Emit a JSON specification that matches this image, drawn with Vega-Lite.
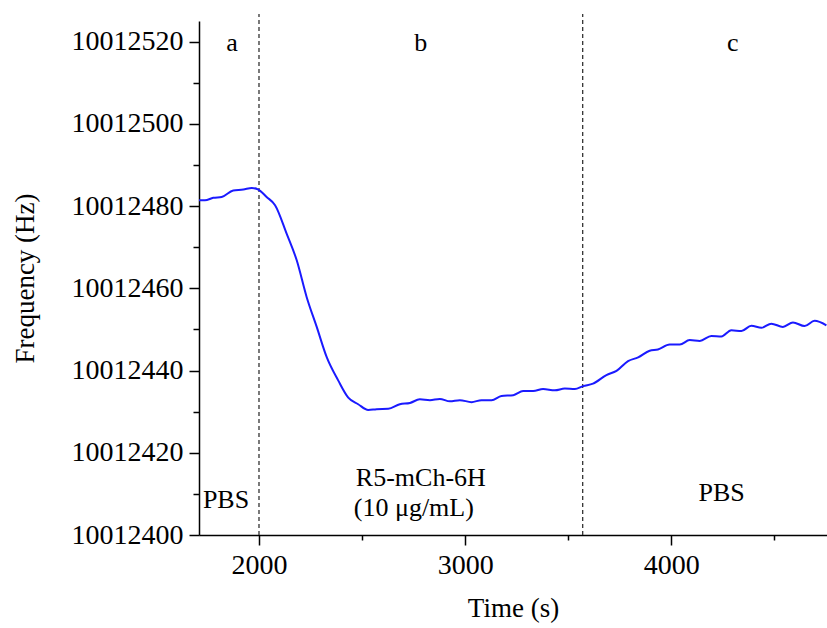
{
  "$schema": "https://vega.github.io/schema/vega-lite/v6.json",
  "width": 628,
  "height": 514,
  "autosize": {"type": "none"},
  "padding": {"left": 199, "top": 21, "right": 0, "bottom": 93},
  "background": "white",
  "config": {
    "view": {"stroke": null},
    "font": "Liberation Serif",
    "axis": {
      "grid": false,
      "domainColor": "black",
      "domainWidth": 1.5,
      "tickColor": "black",
      "tickWidth": 1.5,
      "labelFont": "Liberation Serif",
      "titleFont": "Liberation Serif",
      "labelFontSize": 28,
      "titleFontSize": 27,
      "labelColor": "black",
      "titleColor": "black",
      "titleFontWeight": "normal"
    }
  },
  "datasets": {
    "curve": [
      {"t": 1709, "f": 10012481.4},
      {"t": 1738, "f": 10012481.4},
      {"t": 1778, "f": 10012482.0},
      {"t": 1819, "f": 10012482.2},
      {"t": 1875, "f": 10012483.8},
      {"t": 1924, "f": 10012484.0},
      {"t": 1965, "f": 10012484.4},
      {"t": 1997, "f": 10012484.0},
      {"t": 2037, "f": 10012482.2},
      {"t": 2078, "f": 10012480.2},
      {"t": 2134, "f": 10012473.3},
      {"t": 2183, "f": 10012466.8},
      {"t": 2231, "f": 10012457.9},
      {"t": 2280, "f": 10012450.6},
      {"t": 2328, "f": 10012443.3},
      {"t": 2384, "f": 10012437.6},
      {"t": 2433, "f": 10012433.4},
      {"t": 2481, "f": 10012431.8},
      {"t": 2530, "f": 10012430.4},
      {"t": 2570, "f": 10012430.6},
      {"t": 2627, "f": 10012430.7},
      {"t": 2683, "f": 10012431.8},
      {"t": 2732, "f": 10012432.1},
      {"t": 2780, "f": 10012433.0},
      {"t": 2829, "f": 10012432.8},
      {"t": 2877, "f": 10012433.1},
      {"t": 2926, "f": 10012432.5},
      {"t": 2974, "f": 10012432.8},
      {"t": 3031, "f": 10012432.3},
      {"t": 3079, "f": 10012432.8},
      {"t": 3128, "f": 10012432.8},
      {"t": 3176, "f": 10012433.8},
      {"t": 3233, "f": 10012434.0},
      {"t": 3281, "f": 10012435.0},
      {"t": 3330, "f": 10012435.0},
      {"t": 3378, "f": 10012435.5},
      {"t": 3435, "f": 10012435.2},
      {"t": 3483, "f": 10012435.6},
      {"t": 3532, "f": 10012435.5},
      {"t": 3572, "f": 10012436.2},
      {"t": 3620, "f": 10012436.8},
      {"t": 3685, "f": 10012438.9},
      {"t": 3734, "f": 10012439.9},
      {"t": 3790, "f": 10012442.3},
      {"t": 3839, "f": 10012443.2},
      {"t": 3895, "f": 10012444.8},
      {"t": 3935, "f": 10012445.1},
      {"t": 3992, "f": 10012446.3},
      {"t": 4041, "f": 10012446.3},
      {"t": 4089, "f": 10012447.4},
      {"t": 4138, "f": 10012447.2},
      {"t": 4194, "f": 10012448.4},
      {"t": 4243, "f": 10012448.3},
      {"t": 4291, "f": 10012449.8},
      {"t": 4340, "f": 10012449.6},
      {"t": 4388, "f": 10012450.9},
      {"t": 4437, "f": 10012450.4},
      {"t": 4485, "f": 10012451.4},
      {"t": 4541, "f": 10012450.6},
      {"t": 4590, "f": 10012451.7},
      {"t": 4646, "f": 10012450.8},
      {"t": 4695, "f": 10012452.1},
      {"t": 4752, "f": 10012451.0}
    ],
    "dividers": [
      {"t": 2000, "y0": 10012400, "y1": 10012526.7},
      {"t": 3570, "y0": 10012400, "y1": 10012526.7}
    ],
    "labels": [
      {"t": 1869, "f": 10012519.7, "txt": "a"},
      {"t": 2785, "f": 10012519.7, "txt": "b"},
      {"t": 4298, "f": 10012519.7, "txt": "c"},
      {"t": 1840, "f": 10012408.5, "txt": "PBS"},
      {"t": 2785, "f": 10012413.8, "txt": "R5-mCh-6H"},
      {"t": 2751, "f": 10012406.6, "txt": "(10 μg/mL)"},
      {"t": 4244, "f": 10012410.2, "txt": "PBS"}
    ]
  },
  "encoding": {
    "x": {
      "field": "t",
      "type": "quantitative",
      "scale": {"domain": [1709, 4755], "nice": false, "zero": false},
      "axis": {
        "title": "Time (s)",
        "values": [2000, 2500, 3000, 3500, 4000, 4500],
        "labelExpr": "datum.value % 1000 === 0 ? format(datum.value, 'd') : ''",
        "tickSize": {"condition": {"test": "datum.value % 1000 === 0", "value": 10}, "value": 5},
        "labelPadding": 6,
        "titlePadding": 16
      }
    },
    "y": {
      "field": "f",
      "type": "quantitative",
      "scale": {"domain": [10012400, 10012525], "nice": false, "zero": false},
      "axis": {
        "title": "Frequency (Hz)",
        "values": [10012400, 10012410, 10012420, 10012430, 10012440, 10012450, 10012460, 10012470, 10012480, 10012490, 10012500, 10012510, 10012520],
        "labelExpr": "datum.value % 20 === 0 ? format(datum.value, 'd') : ''",
        "tickSize": {"condition": {"test": "datum.value % 20 === 0", "value": 10}, "value": 6},
        "labelPadding": 6,
        "titlePadding": 32
      }
    }
  },
  "layer": [
    {
      "data": {"name": "dividers"},
      "mark": {"type": "rule", "color": "#333333", "strokeWidth": 1.3, "strokeDash": [4, 3], "clip": false},
      "encoding": {
        "x": {"field": "t", "type": "quantitative"},
        "y": {"field": "y0", "type": "quantitative"},
        "y2": {"field": "y1"}
      }
    },
    {
      "data": {"name": "curve"},
      "mark": {"type": "line", "color": "#1a1aff", "strokeWidth": 2, "interpolate": "monotone"},
      "encoding": {}
    },
    {
      "data": {"name": "labels"},
      "mark": {"type": "text", "font": "Liberation Serif", "fontSize": 26, "color": "black", "align": "center", "baseline": "middle"},
      "encoding": {"text": {"field": "txt"}}
    }
  ]
}
